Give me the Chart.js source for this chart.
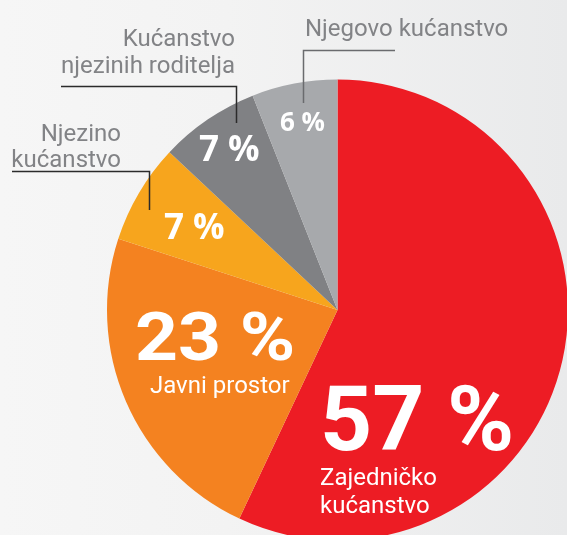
<!DOCTYPE html>
<html>
<head>
<meta charset="utf-8">
<script src="https://cdn.jsdelivr.net/npm/chart.js@4/dist/chart.umd.min.js"></script>
<style>
  html, body { margin: 0; padding: 0; width: 567px; height: 535px; overflow: hidden;
    background: linear-gradient(to right, #f6f6f6 0%, #f3f3f3 40%, #e9eaeb 100%); }
  #wrap { position: absolute; left: 0; top: 0; width: 675px; height: 620px; }
</style>
</head>
<body>
<div id="wrap"><canvas id="c" width="675" height="620"></canvas></div>
<script>
// ---- data ----
const categories = ['Zajedničko kućanstvo', 'Javni prostor', 'Njezino kućanstvo', 'Kućanstvo njezinih roditelja', 'Njegovo kućanstvo'];
const values = [57, 23, 7, 7, 6];
const colors = ['#ED1C24', '#F48220', '#F7A51D', '#808184', '#A7A9AC'];

const GRAY_TEXT = '#828386';

const labelPlugin = {
  id: 'labels',
  afterDraw(chart) {
    const ctx = chart.ctx;
    ctx.save();
    ctx.textBaseline = 'alphabetic';

    function txt(s, x, y, font, align, color, sx) {
      ctx.save();
      ctx.font = font;
      ctx.textAlign = align || 'left';
      ctx.fillStyle = color || '#ffffff';
      ctx.translate(x, y);
      if (sx) ctx.scale(sx, 1);
      ctx.fillText(s, 0, 0);
      ctx.restore();
    }
    const pct = i => values[i] + ' %';

    // inside labels
    txt(pct(0), 320, 450, '700 91px Roboto');
    txt('Zajedničko', 320, 485, '400 24px Roboto');
    txt('kućanstvo', 320, 513, '400 24px Roboto');
    txt(pct(1), 135, 360, '700 67px Roboto', 'left', '#ffffff', 1.12);
    txt('Javni prostor', 150, 393, '400 24px Roboto');
    txt(pct(2), 164, 239, '700 35px "Open Sans"');
    txt(pct(3), 199, 161, '700 35px "Open Sans"');
    txt(pct(4), 280, 131, '700 26px "Open Sans"');

    // outside labels
    const f = '400 24px Roboto';
    txt('Njegovo kućanstvo', 305, 36, f, 'left', GRAY_TEXT);
    txt('Kućanstvo', 235, 46, f, 'right', GRAY_TEXT);
    txt('njezinih roditelja', 235, 73, f, 'right', GRAY_TEXT);
    txt('Njezino', 121, 141, f, 'right', GRAY_TEXT);
    txt('kućanstvo', 121, 167, f, 'right', GRAY_TEXT);

    // leader lines
    ctx.lineWidth = 1.5;
    function line(pts, color) {
      ctx.strokeStyle = color;
      ctx.beginPath();
      ctx.moveTo(pts[0][0], pts[0][1]);
      for (let k = 1; k < pts.length; k++) ctx.lineTo(pts[k][0], pts[k][1]);
      ctx.stroke();
    }
    line([[303.5, 103], [303.5, 50.5], [395, 50.5]], '#6a6b6e');
    line([[61, 86.5], [236.5, 86.5], [236.5, 123]], '#2b2b2b');
    line([[12, 171.5], [149.5, 171.5], [149.5, 210]], '#2b2b2b');
    ctx.restore();
  }
};

new Chart(document.getElementById('c'), {
  type: 'pie',
  data: {
    labels: categories,
    datasets: [{
      data: values,
      backgroundColor: colors,
      borderWidth: 0
    }]
  },
  options: {
    responsive: false,
    animation: false,
    devicePixelRatio: 1,
    layout: { padding: { left: 107, right: 107, top: 79, bottom: 79 } },
    plugins: { legend: { display: false }, tooltip: { enabled: false } }
  },
  plugins: [labelPlugin]
});
</script>
</body>
</html>
